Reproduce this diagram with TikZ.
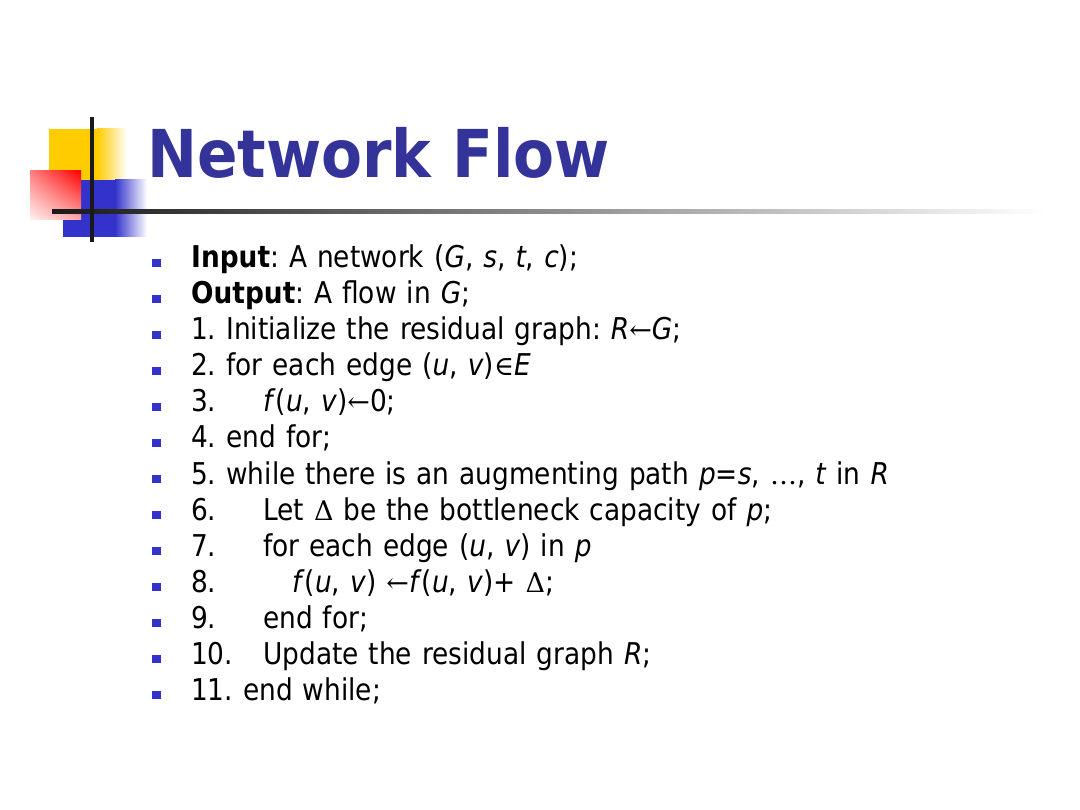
\documentclass[tikz,border=0pt]{standalone}
\usepackage{fontspec}
\setmainfont{DejaVu Sans}[FakeStretch=0.88]
\newfontfamily\headfont{DejaVu Sans}[FakeStretch=0.905]
\newfontfamily\symfont{DejaVu Serif}
\usepackage{tikz}
\usetikzlibrary{shadings, positioning}
\definecolor{titleblue}{HTML}{333399}
\definecolor{markblue}{HTML}{3333CC}
\definecolor{markyellow}{HTML}{FFCC00}
\frenchspacing
\newcommand{\lno}[1]{\makebox[72pt][l]{#1}}
\newcommand{\sym}[1]{{\symfont\fontsize{27}{27}\selectfont #1}}
\tikzset{
	algline/.style={
		text width=860pt,
		align=left,
		inner sep=0pt,
		text height=22pt,
		text depth=8pt,
		font=\fontsize{30}{36}\selectfont
	},
	bullet/.style={
		rectangle,
		fill=markblue,
		minimum size=8.5pt,
		inner sep=0pt
	},
	heading/.style={
		inner sep=0pt,
		text=titleblue,
		font=\headfont\fontsize{66}{70}\selectfont\bfseries
	}
}

\begin{document}
\begin{tikzpicture}[x=1pt, y=-1pt, node distance=36pt]
	\fill[white] (0,0) rectangle (1080,810);
	\useasboundingbox (0,0) rectangle (1080,810);
	% corner mark
	\fill[markyellow] (49,129) rectangle (97,180);
	\shade[left color=markyellow, right color=white] (97,129) rectangle (127,180);
	\fill[markblue] (63,180) rectangle (115,237);
	\shade[left color=markblue, right color=white] (115,180) rectangle (147,237);
	\shade[upper right=red, upper left=red!50, lower right=red!35, lower left=red!5] (30,171) rectangle (81,220);
	\shade[left color=black!90, middle color=black!35, right color=white] (52,210) rectangle (1045,214);
	\draw[line width=4pt, black!90] (92,117) -- (92,242);
	
	\node (title) [heading, anchor=base west] at (147,178) {Network Flow};
	
	\node (input) [algline, anchor=base west] at (191,268) {\textbf{Input}: A network (\textit{G}, \textit{s}, \textit{t}, \textit{c});};
	\node (output) [algline, below of=input] {\textbf{Output}: A flow in \textit{G};};
	\node (s1) [algline, below of=output] {1. Initialize the residual graph: \textit{R}\sym{←}\textit{G};};
	\node (s2) [algline, below of=s1] {2. for each edge (\textit{u}, \textit{v})\sym{∈}\textit{E}};
	\node (s3) [algline, below of=s2] {\lno{3.}\textit{f}(\textit{u}, \textit{v})\sym{←}0;};
	\node (s4) [algline, below of=s3] {4. end for;};
	\node (s5) [algline, below of=s4] {5. while there is an augmenting path \textit{p}=\textit{s}, \sym{…}, \textit{t} in \textit{R}};
	\node (s6) [algline, below of=s5] {\lno{6.}Let \sym{Δ} be the bottleneck capacity of \textit{p};};
	\node (s7) [algline, below of=s6] {\lno{7.}for each edge (\textit{u}, \textit{v}) in \textit{p}};
	\node (s8) [algline, below of=s7] {\lno{8.}\hspace{29pt}\textit{f}(\textit{u}, \textit{v}) \sym{←}\textit{f}(\textit{u}, \textit{v})+ \sym{Δ};};
	\node (s9) [algline, below of=s8] {\lno{9.}end for;};
	\node (s10) [algline, below of=s9] {\lno{10.}Update the residual graph \textit{R};};
	\node (s11) [algline, below of=s10] {11. end while;};
	
	\foreach \n in {input,output,s1,s2,s3,s4,s5,s6,s7,s8,s9,s10,s11}
		\node (b\n) [bullet, left=30pt of \n.west, yshift=-2pt] {};
\end{tikzpicture}
\end{document}
